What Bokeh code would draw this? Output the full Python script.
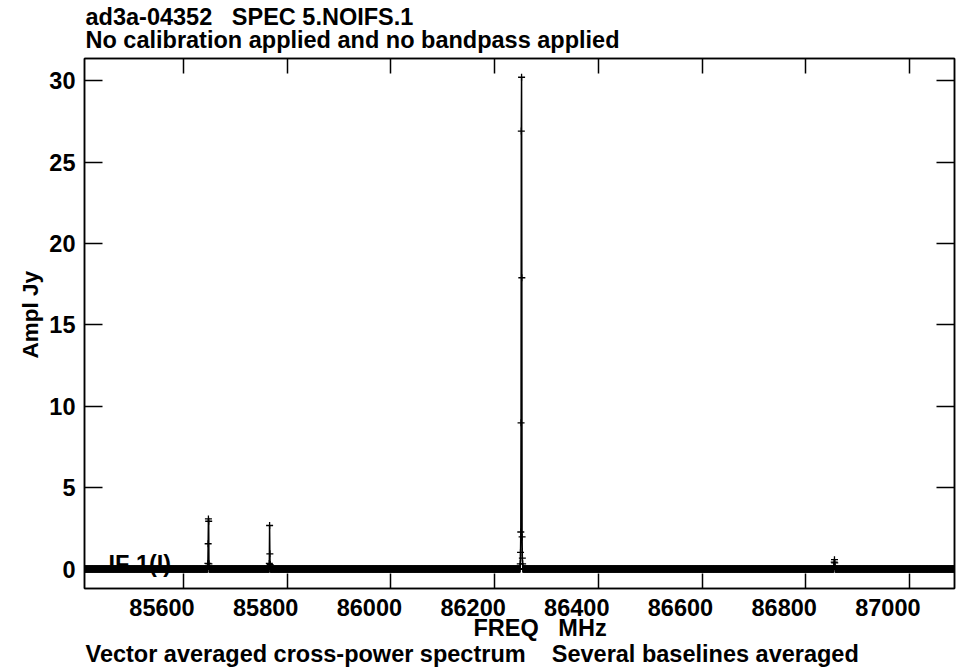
import numpy as np
from bokeh.plotting import figure
from bokeh.models import Range1d, LinearAxis, FixedTicker, Label, Title, ColumnDataSource
from bokeh.embed import file_html
from bokeh.resources import INLINE

FONT = "Liberation Sans"
FSIZE = "23.5px"
SP = "\u00a0"

# spectral channel grid (MHz)
chan_start_mhz = 85409.0
chan_width_mhz = 0.5
n_channels = 3356
# amplitude of the line-free channels (Jy)
baseline_jy = 0.03

# line features: channel frequencies (MHz) and amplitudes (Jy)
line_a_freq = [85647.0, 85647.5, 85648.0, 85648.5, 85649.0]
line_a_amp = [0.37, 1.58, 3.10, 2.96, 0.35]

line_b_freq = [85765.5, 85766.0, 85766.5, 85767.0]
line_b_amp = [0.37, 2.70, 0.96, 0.30]

line_c_freq = [86249.5, 86250.0, 86250.5, 86251.0, 86251.5,
               86252.0, 86252.5, 86253.0, 86253.5, 86254.0]
line_c_amp = [0.35, 1.05, 2.30, 9.00, 26.9, 30.2, 17.9, 2.00, 0.70, 0.35]

line_d_freq = [86854.5, 86855.0, 86855.5, 86856.0, 86856.5]
line_d_amp = [0.20, 0.45, 0.60, 0.40, 0.15]

x_ticks = [85600, 85800, 86000, 86200, 86400, 86600, 86800, 87000]
y_ticks = [0, 5, 10, 15, 20, 25, 30]

X0, X1 = 85409.0, 87087.0
Y0, Y1 = -1.166, 31.35

# frequency labels sit to the left of their tick marks
label_shift_mhz = 41.5

# assemble the spectrum
freq = chan_start_mhz + chan_width_mhz * np.arange(n_channels)
amp = np.full(n_channels, baseline_jy)
for fl, al in ((line_a_freq, line_a_amp), (line_b_freq, line_b_amp),
               (line_c_freq, line_c_amp), (line_d_freq, line_d_amp)):
    for f, a in zip(fl, al):
        idx = int(round((f - chan_start_mhz) / chan_width_mhz))
        amp[idx] = a

src = ColumnDataSource(dict(freq=freq, amp=amp))

p = figure(width=961, height=672, output_backend="svg", toolbar_location=None,
           x_range=Range1d(X0, X1), y_range=Range1d(Y0, Y1),
           min_border_left=84, min_border_right=7,
           min_border_top=58, min_border_bottom=84)
p.title.visible = False
p.grid.visible = False
p.background_fill_color = "white"
p.border_fill_color = "white"
p.outline_line_color = "black"
p.outline_line_width = 1.5


def style_axis(ax, tick_len, ticks, show_labels):
    ax.ticker = FixedTicker(ticks=ticks)
    ax.major_tick_in = tick_len
    ax.major_tick_out = 0
    ax.minor_tick_line_color = None
    ax.axis_line_color = "black"
    ax.axis_line_width = 1.5
    ax.major_tick_line_color = "black"
    ax.major_tick_line_width = 1.5
    if show_labels:
        ax.major_label_text_font = FONT
        ax.major_label_text_font_style = "bold"
        ax.major_label_text_font_size = FSIZE
        ax.major_label_text_color = "black"
        ax.major_label_standoff = 9
    else:
        ax.major_label_text_font_size = "0px"
        ax.major_label_standoff = 0


style_axis(p.xaxis[0], 15, x_ticks, False)
style_axis(p.yaxis[0], 18, y_ticks, True)

# frequency tick labels on their own axis row
lab_ax = LinearAxis()
lab_ax.ticker = FixedTicker(ticks=[t - label_shift_mhz for t in x_ticks])
lab_ax.major_label_overrides = {t - label_shift_mhz: str(t) for t in x_ticks}
lab_ax.major_tick_in = 0
lab_ax.major_tick_out = 0
lab_ax.major_tick_line_color = None
lab_ax.minor_tick_line_color = None
lab_ax.axis_line_color = None
lab_ax.major_label_text_font = FONT
lab_ax.major_label_text_font_style = "bold"
lab_ax.major_label_text_font_size = FSIZE
lab_ax.major_label_text_color = "black"
lab_ax.major_label_standoff = 10
p.add_layout(lab_ax, "below")

top_ax = LinearAxis()
style_axis(top_ax, 15, x_ticks, False)
p.add_layout(top_ax, "above")
right_ax = LinearAxis()
style_axis(right_ax, 18, y_ticks, False)
p.add_layout(right_ax, "right")


def title(text, place, standoff, offset=0, align="left", size=FSIZE):
    t = Title(text=text, align=align, offset=offset, standoff=standoff,
              text_font=FONT, text_font_style="bold", text_font_size=size,
              text_color="black")
    p.add_layout(t, place)


# header lines, nearest the frame first
title("No calibration applied and no bandpass applied", "above", 12, offset=1)
title(f"ad3a-04352{SP*3}SPEC 5.NOIFS.1", "above", -23, offset=1)
title(f"FREQ{SP*3}MHz", "below", -12, offset=389)
title(f"Vector averaged cross-power spectrum{SP*4}Several baselines averaged",
      "below", 8, offset=1)
title("Ampl Jy", "left", 7, offset=230, align="left", size="22.5px")

# spectrum: connected channels with a cross at each one
p.line("freq", "amp", source=src, line_color="black", line_width=1.5)
p.scatter("freq", "amp", source=src, marker="cross", size=7,
          line_color="black", line_width=1.3)

p.add_layout(Label(x=X0, y=0, x_offset=24, y_offset=5, text="IF 1(I)",
                   text_font=FONT, text_font_style="bold", text_font_size=FSIZE,
                   text_color="black", text_baseline="alphabetic"))

open("out.html", "w").write(file_html(p, INLINE))
